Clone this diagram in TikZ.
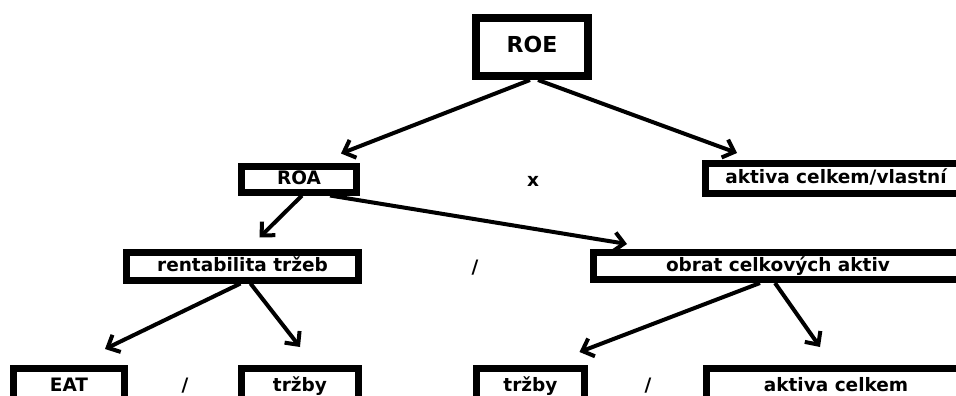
\documentclass[tikz,border=0pt]{standalone}
\usepackage{fontspec}
\setmainfont{DejaVu Sans}
\usetikzlibrary{arrows.meta}

\tikzset{
  box/.style={draw, line width=7pt, inner sep=0pt, text height=14pt, text depth=4pt,
              font=\bfseries\fontsize{18.5}{20}\selectfont},
  lbl/.style={inner sep=0pt, text height=14pt, text depth=4pt,
              font=\bfseries\fontsize{18.5}{20}\selectfont},
  arr/.style={line width=4pt, -{Straight Barb[length=10pt,width=19pt]}}
}

\begin{document}
\begin{tikzpicture}[x=1pt, y=-1pt]
    \useasboundingbox (0,0) rectangle (956,396);
    \clip (0,0) rectangle (956,396);

    % boxes
    \node[box, line width=8pt, minimum width=112pt, minimum height=58pt, text height=16pt,
          font=\bfseries\fontsize{22}{24}\selectfont] (roe) at (532,47) {ROE};
    \node[box, minimum width=115pt, minimum height=26pt] (roa) at (299,179) {ROA};
    \node[box, minimum width=261pt, minimum height=30pt] (akvl) at (836,178.5) {aktiva celkem/vlastní};
    \node[box, minimum width=232pt, minimum height=28pt] (rent) at (242.5,266) {rentabilita tržeb};
    \node[box, minimum width=369pt, minimum height=27pt] (obrat) at (778,266) {obrat celkových aktiv};
    \node[box, minimum width=111pt, minimum height=36pt] (eat) at (69,386.5) {EAT};
    \node[box, minimum width=117pt, minimum height=36pt] (trz1) at (300,386.5) {tržby};
    \node[box, minimum width=108pt, minimum height=36pt] (trz2) at (530.5,386.5) {tržby};
    \node[box, minimum width=259pt, minimum height=36pt] (akc) at (836,386.5) {aktiva celkem};

    % operators
    \node[lbl] (krat) at (533,181) {x};
    \node[lbl] (del1) at (475,268) {/};
    \node[lbl] (del2) at (185,386) {/};
    \node[lbl] (del3) at (648,386) {/};

    % arrows
    \draw[arr] ([xshift=-2pt]roe.south) -- ([xshift=-19pt,yshift=9pt]roa.north east);
    \draw[arr] ([xshift=6pt]roe.south) -- ([xshift=35pt,yshift=7pt]akvl.north west);
    \draw[arr] ([xshift=3pt]roa.south) -- ([xshift=17pt,yshift=11pt]rent.north);
    \draw[arr] ([xshift=31pt]roa.south) -- ([xshift=37pt,yshift=5pt]obrat.north west);
    \draw[arr] ([xshift=-2pt]rent.south) -- ([xshift=36pt,yshift=16pt]eat.north);
    \draw[arr] ([xshift=8pt]rent.south) -- ([yshift=18pt]trz1.north);
    \draw[arr] ([xshift=-18pt]obrat.south) -- ([xshift=49pt,yshift=13pt]trz2.north);
    \draw[arr] ([xshift=-3pt]obrat.south) -- ([xshift=-16pt,yshift=18pt]akc.north);
\end{tikzpicture}
\end{document}
